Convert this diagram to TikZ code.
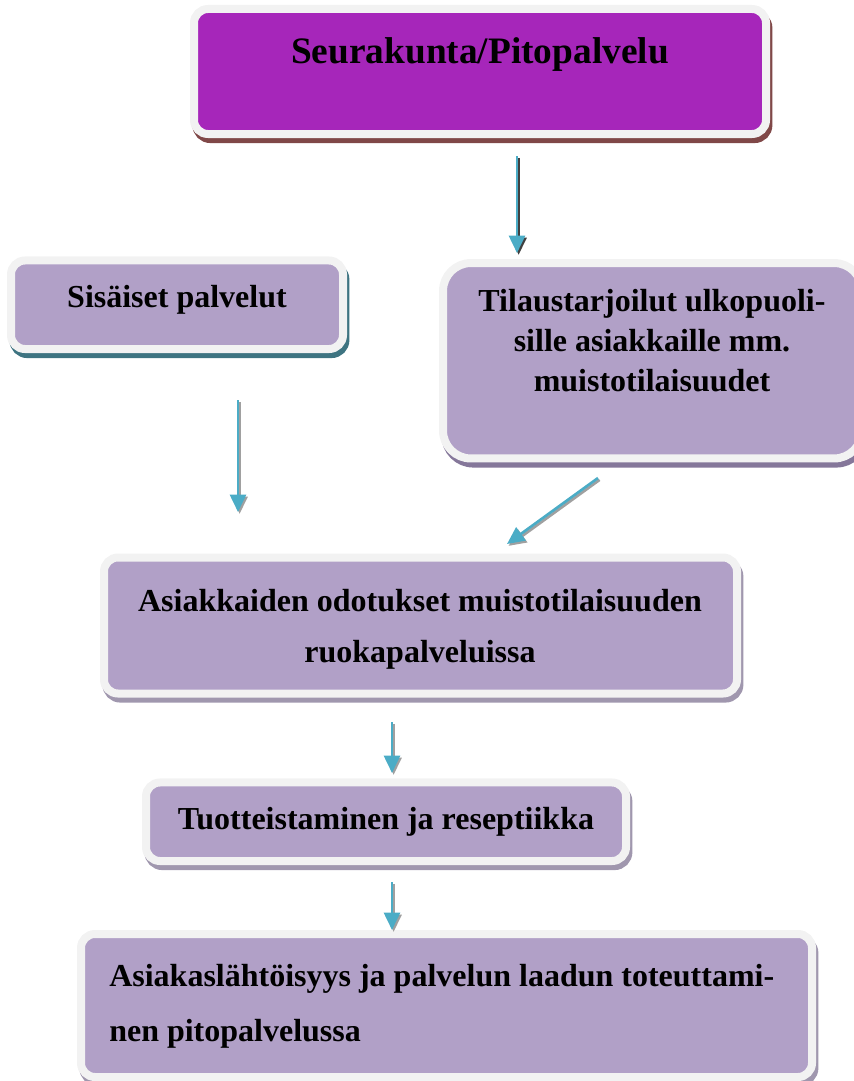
\documentclass[tikz,border=0pt]{standalone}
\usepackage{fontspec}
\setmainfont{Liberation Serif}
\usetikzlibrary{shadows,arrows.meta}
\definecolor{lavfill}{HTML}{B1A0C7}
\definecolor{topfill}{HTML}{A626BA}
\definecolor{rimgrey}{HTML}{F2F2F2}
\definecolor{shbrown}{HTML}{804848}
\definecolor{shteal}{HTML}{3E7481}
\definecolor{shlav}{HTML}{85779A}
\definecolor{shpale}{HTML}{A097AE}
\definecolor{arrowblue}{HTML}{4BACC6}
\definecolor{shgrey}{HTML}{A0A0A0}
\definecolor{shdark}{HTML}{404040}

\begin{document}
\begin{tikzpicture}[x=0.75pt, y=-0.75pt,
  box/.style = {shape=rectangle, rounded corners=10.5pt, draw=rimgrey,
    line width=6pt, fill=lavfill, inner sep=0pt,
    drop shadow={shadow xshift=1.8pt, shadow yshift=-3.8pt, opacity=1,
      fill=#1, draw=#1, line width=6pt}},
  lbl/.style = {font=\bfseries\fontsize{24}{30}\selectfont, align=center, inner sep=0pt},
  arr/.style = {draw=arrowblue, line width=2pt, -{Triangle[width=12pt,length=13pt]}},
  arrsh/.style = {draw=#1, line width=2pt, -{Triangle[width=12pt,length=13pt]},
    transform canvas={shift={(1.2pt,-1.4pt)}}}]
  \useasboundingbox (0,0) rectangle (853,1081);

  \node[box=shbrown, fill=topfill, minimum width=429pt, minimum height=93.75pt] (seura) at (480,71.5) {};
  \node[lbl, font=\bfseries\fontsize{28}{34}\selectfont] (seura-t) at (480,55) {Seurakunta/Pitopalvelu};

  \node[box=shteal, minimum width=249pt, minimum height=66.4pt] (sisa) at (177,304.75) {};
  \node[lbl] (sisa-t) at (177,300) {Sisäiset palvelut};

  \node[box=shlav, rounded corners=21pt, minimum width=314.25pt, minimum height=146.6pt] (tilaus) at (652.5,360.75) {};
  \node[lbl] (tilaus-t) at (652,341) {Tilaustarjoilut ulkopuoli-\\sille asiakkaille mm.\\muistotilaisuudet};

  \node[box=shpale, minimum width=474.75pt, minimum height=102pt] (odot) at (420.5,625.5) {};
  \node[lbl, font=\bfseries\fontsize{24}{38}\selectfont] (odot-t) at (420,629) {Asiakkaiden odotukset muistotilaisuuden\\ruokapalveluissa};

  \node[box=shpale, minimum width=360pt, minimum height=58.9pt] (tuote) at (386,821.75) {};
  \node[lbl] (tuote-t) at (386,822) {Tuotteistaminen ja reseptiikka};

  \node[box=shpale, minimum width=548.25pt, minimum height=107.25pt] (laatu) at (446.5,1005.5) {};
  \node[lbl, font=\bfseries\fontsize{24}{41}\selectfont, align=left, anchor=west] (laatu-t) at (109,1006) {Asiakaslähtöisyys ja palvelun laadun toteuttami-\\nen pitopalvelussa};

  \coordinate (a1a) at (517,156);
  \coordinate (a1b) at (517,253);
  \coordinate (a2a) at (238,400);
  \coordinate (a2b) at (238,512);
  \coordinate (a3a) at (598,478);
  \coordinate (a3b) at (507,544);
  \coordinate (a4a) at (392,722);
  \coordinate (a4b) at (392,773);
  \coordinate (a5a) at (392,882);
  \coordinate (a5b) at (392,930);

  \foreach \s/\e/\c in {a1a/a1b/shdark, a2a/a2b/shgrey, a3a/a3b/shgrey, a4a/a4b/shgrey, a5a/a5b/shgrey} {
    \draw[arrsh=\c] (\s) -- (\e);
    \draw[arr] (\s) -- (\e);
  }
\end{tikzpicture}
\end{document}
